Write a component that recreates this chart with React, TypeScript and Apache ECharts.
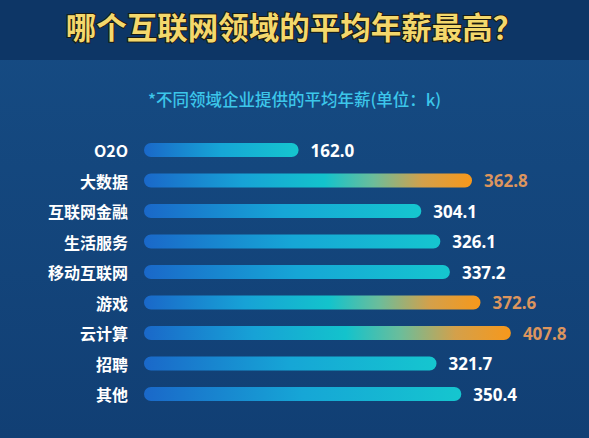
import React, { useEffect, useRef } from "react";
import * as echarts from "echarts";

const titleText = "哪个互联网领域的平均年薪最高？";
const subtitleText = "*不同领域企业提供的平均年薪(单位：k)";
const categories = ["O2O", "大数据", "互联网金融", "生活服务", "移动互联网", "游戏", "云计算", "招聘", "其他"];
const salaries = [162.0, 362.8, 304.1, 326.1, 337.2, 372.6, 407.8, 321.7, 350.4];
const highlighted = ["大数据", "游戏", "云计算"];
const axisMin = -17;
const axisMax = 470;

export default function App() {
  const ref = useRef<HTMLDivElement>(null);
  useEffect(() => {
    if (!ref.current) return;
    const chart = echarts.init(ref.current, null, { renderer: "svg" });
    const data = salaries.map((v, i) => [v, i]);
    const normalGrad = () =>
      new echarts.graphic.LinearGradient(0, 0, 1, 0, [
        { offset: 0, color: "#1a68c9" },
        { offset: 0.5, color: "#16a6d6" },
        { offset: 1, color: "#15c6cf" },
      ]);
    const hotGrad = () =>
      new echarts.graphic.LinearGradient(0, 0, 1, 0, [
        { offset: 0, color: "#1a68c9" },
        { offset: 0.3, color: "#17a2d6" },
        { offset: 0.55, color: "#13c3cc" },
        { offset: 0.7, color: "#6cbd9a" },
        { offset: 0.85, color: "#d4a04a" },
        { offset: 1, color: "#f7981b" },
      ]);
    chart.setOption({
      animation: false,
      backgroundColor: new echarts.graphic.LinearGradient(0, 0, 0, 1, [
        { offset: 0, color: "#164c84" },
        { offset: 1, color: "#113f74" },
      ]),
      graphic: [
        {
          type: "rect",
          left: 0,
          top: 0,
          shape: { width: 589, height: 60 },
          style: { fill: "#0d3666" },
          z: -10,
        },
        {
          type: "text",
          left: "center",
          top: 10,
          style: {
            text: titleText,
            fill: "#f4d86c",
            font: "bold 30.5px 'Noto Sans CJK SC'",
            stroke: "#1c1a10",
            lineWidth: 2,
          },
        },
        {
          type: "text",
          left: "center",
          top: 91,
          style: {
            text: subtitleText,
            fill: "#3cc6ea",
            font: "500 16.5px 'Noto Sans CJK SC'",
          },
        },
      ],
      grid: { left: 144, top: 134.75, width: 420.6, height: 274.5, containLabel: false },
      xAxis: {
        type: "value",
        min: axisMin,
        max: axisMax,
        show: false,
      },
      yAxis: {
        type: "category",
        inverse: true,
        data: categories,
        axisLine: { show: false },
        axisTick: { show: false },
        splitLine: { show: false },
        axisLabel: {
          color: "#ffffff",
          fontSize: 16,
          fontWeight: "bold",
          fontFamily: "'Noto Sans CJK SC'",
          margin: 16,
        },
      },
      series: [
        {
          type: "custom",
          encode: { x: 0, y: 1 },
          data,
          renderItem: (params: any, api: any) => {
            const v = api.value(0);
            const idx = api.value(1);
            const start = api.coord([axisMin, idx]);
            const end = api.coord([v, idx]);
            const h = 14;
            const hot = highlighted.includes(categories[idx]);
            return {
              type: "group",
              children: [
                {
                  type: "rect",
                  shape: { x: start[0], y: start[1] - h / 2, width: end[0] - start[0], height: h, r: h / 2 },
                  style: { fill: hot ? hotGrad() : normalGrad() },
                },
                {
                  type: "text",
                  x: end[0] + 12,
                  y: end[1],
                  style: {
                    text: v.toFixed(1),
                    fill: hot ? "#dc955e" : "#ffffff",
                    font: "bold 17px 'Noto Sans', sans-serif",
                    verticalAlign: "middle",
                    align: "left",
                  },
                },
              ],
            };
          },
        },
      ],
    });
    return () => chart.dispose();
  }, []);
  return <div ref={ref} style={{ position: "fixed", left: 0, top: 0, width: 589, height: 438 }} />;
}
